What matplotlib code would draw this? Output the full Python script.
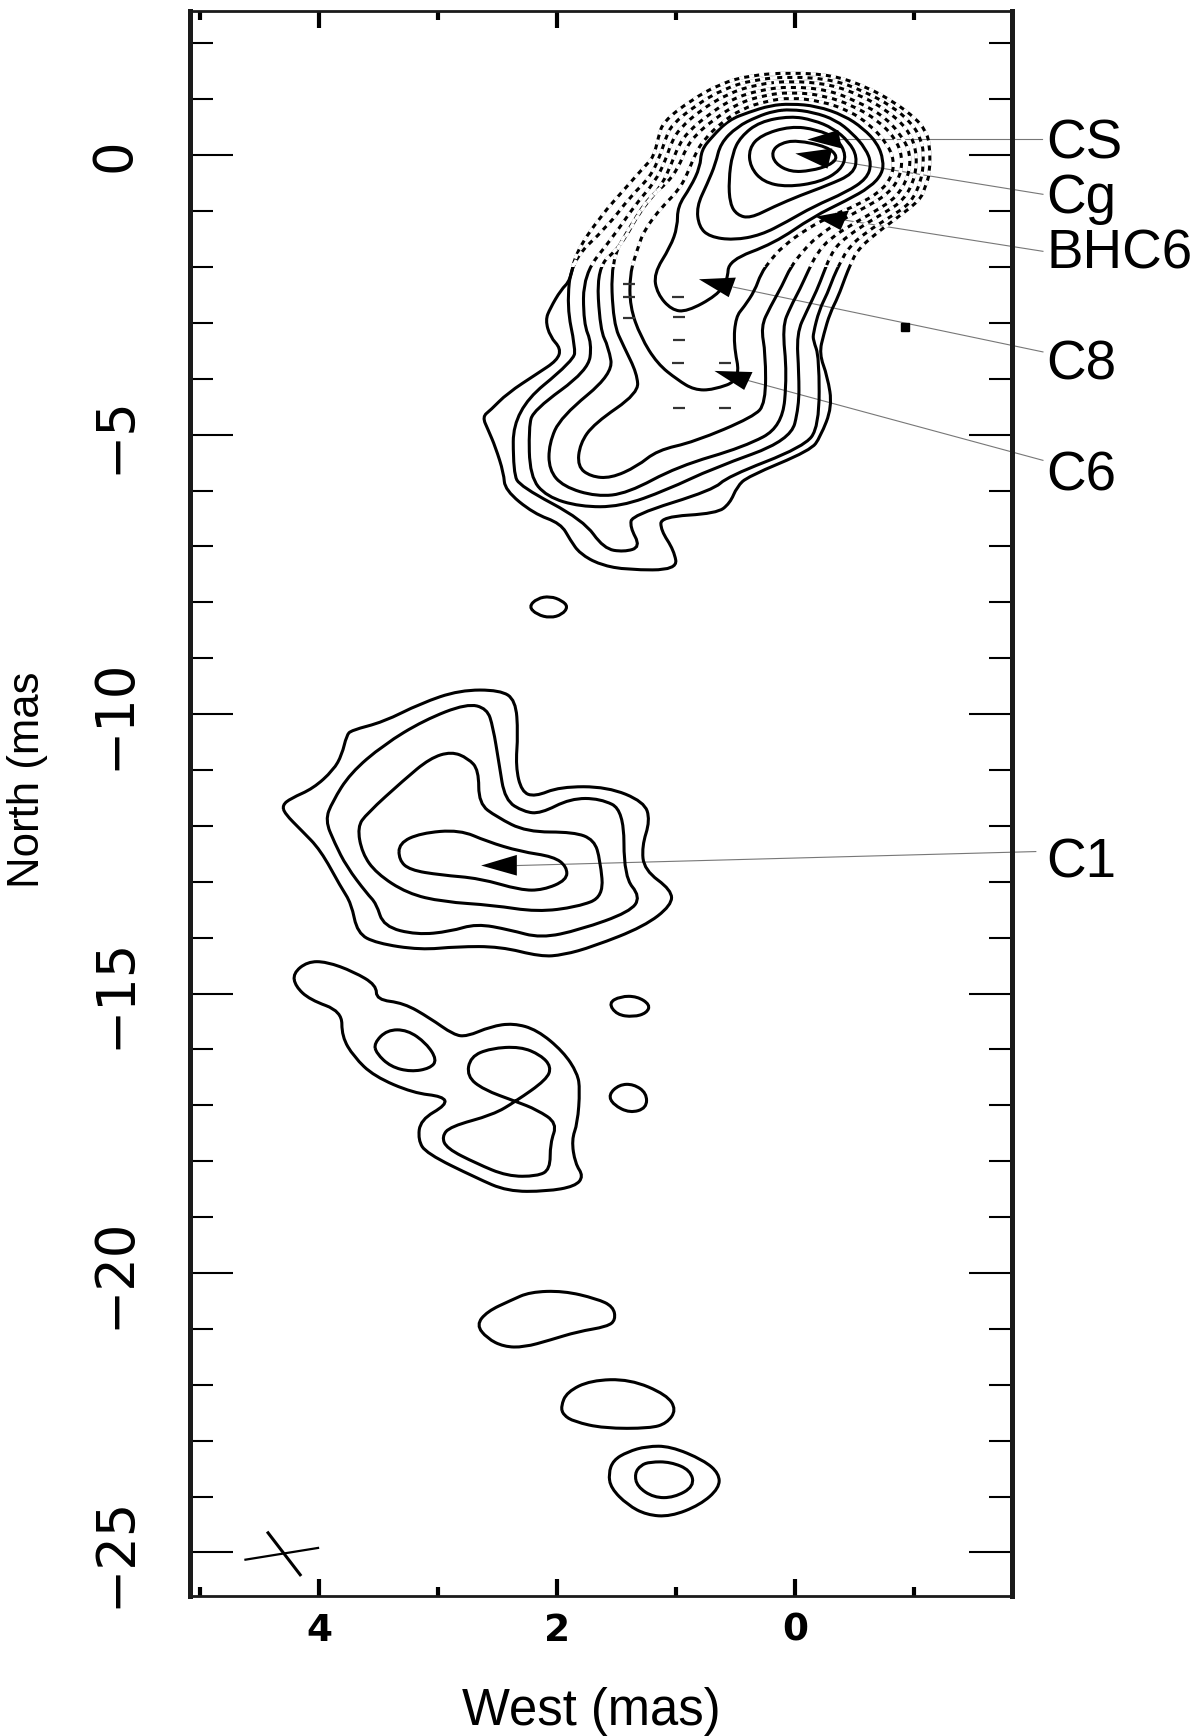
import matplotlib
matplotlib.use('Agg')
import matplotlib.pyplot as plt
from matplotlib.path import Path
from matplotlib.patches import PathPatch, Rectangle

# contours of the head and jet, outermost first
b1_west = [.04, -.32, -.60, -.83, -1.01, -1.09, -1.13, -1.13, -1.09, -1.05, -.83, -.66, -.52, -.46, -.42, -.36, -.29, -.24, -.20, -.27, -.31, -.21, -.13, .40, .49, .55, .66, 1.13, 1.13, 1.02, .99, 1.41, 1.64, 1.81, 1.89, 1.97, 2.20, 2.44, 2.45, 2.52, 2.58, 2.63, 2.56, 2.42, 2.17, 2.00, 1.97, 2.06, 2.10, 2.06, 1.97, 1.89, 1.85, 1.64, 1.42, 1.27, 1.19, 1.15, 1.11, .88, .63, .38]
b1_north = [1.48, 1.43, 1.22, .95, .66, .45, .21, -.33, -.57, -.80, -1.16, -1.43, -1.70, -1.97, -2.18, -2.53, -2.83, -3.19, -3.55, -3.96, -4.50, -5.04, -5.28, -5.75, -5.93, -6.23, -6.41, -6.47, -6.71, -7.07, -7.42, -7.42, -7.33, -7.13, -6.89, -6.59, -6.41, -5.99, -5.69, -5.22, -4.92, -4.68, -4.56, -4.26, -3.91, -3.67, -3.46, -3.25, -2.95, -2.74, -2.41, -2.24, -1.76, -1.10, -.57, -.21, -.03, .33, .60, .98, 1.28, 1.43]
b2_west = [.04, -.32, -.57, -.81, -.98, -1.06, -1.08, -1.06, -.97, -.80, -.60, -.45, -.38, -.32, -.27, -.20, -.15, -.15, -.20, -.20, -.07, .57, .69, 1.37, 1.39, 1.30, 1.44, 1.61, 1.78, 2.31, 2.37, 2.37, 1.86, 1.85, 1.92, 1.88, 1.58, 1.39, 1.22, 1.14, 1.09, 1.04, .84, .60, .35]
b2_north = [1.41, 1.35, 1.15, .88, .57, .27, -.03, -.45, -.86, -1.10, -1.37, -1.64, -1.91, -2.18, -2.47, -2.77, -3.19, -3.31, -3.61, -4.86, -5.22, -5.75, -5.99, -6.44, -6.65, -7.01, -7.10, -7.04, -6.53, -5.93, -5.69, -4.56, -3.67, -3.43, -2.71, -1.88, -1.28, -.75, -.39, -.03, .30, .54, .89, 1.19, 1.35]
b3_west = [.04, -.29, -.55, -.77, -.94, -1.02, -1.01, -.91, -.74, -.55, -.36, -.29, -.24, -.18, -.10, -.01, -.03, -.03, .04, .69, 1.08, 1.47, 1.81, 2.09, 2.23, 2.24, 2.20, 1.74, 1.71, 1.78, 1.78, 1.53, 1.34, 1.18, 1.09, 1.04, .97, .80, .57, .32]
b3_north = [1.33, 1.27, 1.07, .80, .48, .09, -.39, -.81, -1.04, -1.28, -1.58, -1.82, -2.09, -2.42, -2.77, -3.19, -3.91, -4.50, -5.10, -5.60, -5.99, -6.29, -6.29, -6.11, -5.75, -4.86, -4.56, -3.85, -3.37, -3.01, -2.12, -1.46, -.87, -.48, -.09, .24, .48, .80, 1.10, 1.27]
b4_west = [.04, -.27, -.50, -.73, -.88, -.97, -.95, -.85, -.69, -.49, -.29, -.18, -.11, -.04, .04, .11, .07, .11, .43, .99, 1.41, 1.67, 1.95, 2.07, 2.07, 1.97, 1.53, 1.57, 1.64, 1.67, 1.47, 1.30, 1.13, 1.04, .98, .90, .74, .53, .29]
b4_north = [1.23, 1.17, .98, .72, .39, .03, -.39, -.75, -.98, -1.22, -1.49, -1.76, -2.06, -2.39, -2.71, -3.07, -3.91, -4.86, -5.22, -5.57, -6.05, -6.11, -5.93, -5.63, -5.16, -4.68, -3.91, -3.43, -3.13, -2.00, -1.64, -.98, -.57, -.15, .18, .42, .71, 1.01, 1.17]
b5_west = [.04, -.24, -.48, -.69, -.84, -.90, -.88, -.78, -.60, -.41, -.18, -.07, .04, .11, .21, .29, .25, .25, .35, .85, 1.16, 1.33, 1.55, 1.72, 1.83, 1.81, 1.69, 1.32, 1.33, 1.44, 1.53, 1.55, 1.39, 1.23, 1.08, .98, .92, .84, .69, .49, .27]
b5_north = [1.13, 1.07, .89, .63, .30, -.03, -.39, -.69, -.92, -1.13, -1.46, -1.70, -2.00, -2.33, -2.71, -3.07, -3.55, -4.44, -4.68, -5.13, -5.28, -5.57, -5.78, -5.75, -5.57, -5.16, -4.80, -4.26, -3.91, -3.43, -3.01, -1.88, -1.28, -.75, -.51, -.21, .12, .36, .63, .92, 1.07]
b6_west = [.04, -.21, -.45, -.63, -.77, -.83, -.81, -.71, -.52, -.32, -.10, .11, .21, .29, .34, .43, .50, .52, .46, .69, .85, .99, 1.16, 1.30, 1.39, 1.39, 1.33, 1.27, 1.12, .98, .90, .84, .77, .63, .45, .24]
b6_north = [1.03, .97, .80, .54, .21, -.09, -.39, -.66, -.89, -1.07, -1.31, -1.64, -1.88, -2.12, -2.42, -2.71, -2.89, -3.37, -4.02, -4.20, -4.20, -4.02, -3.73, -3.25, -2.71, -2.12, -1.70, -1.34, -.92, -.63, -.30, .03, .27, .57, .83, .97]
b7_west = [.04, -.18, -.41, -.57, -.69, -.74, -.73, -.63, -.43, -.15, .18, .56, .57, .66, .91, 1.04, 1.16, 1.19, 1.05, .99, .99, .88, .80, .79, .70, .56, .39, .21]
b7_north = [.92, .88, .71, .48, .21, -.09, -.33, -.57, -.81, -1.10, -1.58, -1.88, -2.24, -2.51, -2.80, -2.77, -2.48, -2.12, -1.64, -1.28, -.92, -.57, -.21, .09, .33, .63, .77, .89]
t2_west = [.04, -.15, -.34, -.48, -.59, -.64, -.60, -.43, -.15, .07, .29, .52, .72, .81, .83, .74, .67, .63, .49, .32, .18]
t2_north = [.82, .77, .63, .39, .12, -.15, -.42, -.66, -.92, -1.19, -1.43, -1.52, -1.46, -1.28, -.92, -.51, -.15, .21, .51, .69, .79]
t1_west = [.04, -.15, -.32, -.45, -.52, -.49, -.27, -.04, .18, .38, .49, .55, .56, .53, .46, .30]
t1_north = [.70, .63, .48, .24, -.03, -.33, -.54, -.72, -.92, -1.13, -1.07, -.87, -.45, .03, .33, .60]
r2_west = [.04, -.18, -.35, -.43, -.38, -.21, .07, .27, .38, .39, .29]
r2_north = [.52, .46, .30, .00, -.27, -.48, -.57, -.48, -.21, .12, .36]
r1_west = [-.01, -.27, -.36, -.29, -.13, .04, .17, .20, .13]
r1_north = [.27, .15, -.03, -.18, -.28, -.30, -.15, .06, .21]

# isolated knot at -8
k_west = [2.24, 2.17, 2.06, 1.96, 1.91, 1.96, 2.06, 2.17]
k_north = [-8.08, -7.93, -7.89, -7.97, -8.08, -8.22, -8.28, -8.22]

# C1 lobe
c1_west = [4.31, 4.24, 4.05, 3.88, 3.81, 3.77, 3.73, 3.46, 3.15, 2.82, 2.48, 2.35, 2.33, 2.35, 2.30, 2.19, 1.98, 1.58, 1.27, 1.22, 1.29, 1.27, 1.04, 1.04, 1.27, 1.70, 1.95, 2.14, 2.48, 2.84, 3.15, 3.52, 3.68, 3.73, 3.82, 3.99, 4.15, 4.29]
c1_north = [-11.63, -11.51, -11.33, -11.00, -10.73, -10.38, -10.29, -10.14, -9.81, -9.57, -9.57, -9.75, -10.35, -10.94, -11.39, -11.48, -11.30, -11.30, -11.57, -11.90, -12.37, -12.79, -13.15, -13.42, -13.80, -14.16, -14.31, -14.34, -14.16, -14.16, -14.22, -14.10, -13.92, -13.39, -13.09, -12.43, -12.08, -11.78]
c2_west = [3.95, 3.89, 3.74, 3.46, 3.12, 2.76, 2.59, 2.54, 2.49, 2.44, 2.28, 2.14, 1.89, 1.64, 1.44, 1.44, 1.30, 1.39, 1.81, 2.14, 2.40, 2.68, 2.90, 3.18, 3.46, 3.52, 3.60, 3.77, 3.87]
c2_north = [-11.90, -11.57, -11.06, -10.55, -10.11, -9.81, -9.90, -10.23, -10.88, -11.54, -11.75, -11.78, -11.51, -11.51, -11.72, -12.91, -13.27, -13.54, -13.86, -14.01, -13.86, -13.75, -13.89, -13.95, -13.80, -13.39, -13.21, -12.73, -12.31]
c3_west = [3.68, 3.60, 3.29, 3.07, 2.89, 2.75, 2.66, 2.66, 2.51, 2.26, 1.86, 1.69, 1.64, 1.61, 1.83, 2.17, 2.54, 2.96, 3.26, 3.52, 3.64]
c3_north = [-12.02, -11.78, -11.18, -10.79, -10.67, -10.79, -11.00, -11.60, -11.84, -12.11, -12.11, -12.25, -12.61, -13.27, -13.45, -13.54, -13.42, -13.36, -13.21, -12.85, -12.49]
c4_west = [3.33, 3.15, 2.82, 2.59, 2.31, 2.03, 1.92, 1.92, 2.12, 2.31, 2.65, 2.98, 3.24, 3.33]
c4_north = [-12.31, -12.13, -12.07, -12.28, -12.46, -12.55, -12.73, -12.97, -13.15, -13.15, -12.94, -12.88, -12.79, -12.61]

# lower lobe
d1_west = [4.22, 4.10, 3.94, 3.71, 3.52, 3.52, 3.29, 3.07, 2.87, 2.76, 2.56, 2.37, 2.17, 1.95, 1.83, 1.81, 1.83, 1.88, 1.85, 1.78, 1.85, 2.09, 2.42, 2.68, 3.10, 3.17, 3.15, 2.93, 2.96, 3.21, 3.54, 3.71, 3.81, 3.81, 4.08, 4.20]
d1_north = [-14.64, -14.43, -14.43, -14.61, -14.85, -15.11, -15.17, -15.44, -15.74, -15.77, -15.59, -15.53, -15.65, -16.04, -16.43, -16.72, -17.32, -17.62, -18.04, -18.27, -18.45, -18.54, -18.54, -18.30, -17.86, -17.62, -17.26, -16.99, -16.84, -16.78, -16.48, -16.13, -15.77, -15.32, -15.11, -14.87]
d2_west = [3.54, 3.43, 3.26, 3.10, 3.01, 3.07, 3.23, 3.40, 3.52]
d2_north = [-15.89, -15.65, -15.65, -15.89, -16.19, -16.34, -16.40, -16.31, -16.07]
d3_west = [2.35, 2.09, 2.05, 2.14, 2.31, 2.56, 2.73, 2.76, 2.62, 2.35, 2.17, 2.00, 2.06, 2.06, 2.17, 2.42, 2.68, 2.93, 2.97, 2.90, 2.54]
d3_north = [-16.93, -16.54, -16.31, -16.10, -15.95, -15.98, -16.13, -16.48, -16.72, -16.93, -17.08, -17.32, -17.68, -18.15, -18.27, -18.27, -18.04, -17.77, -17.56, -17.38, -17.17]
e1_west = [1.57, 1.47, 1.33, 1.22, 1.25, 1.36, 1.50]
e1_north = [-15.17, -15.05, -15.05, -15.20, -15.35, -15.42, -15.38]
e2_west = [1.57, 1.48, 1.36, 1.25, 1.25, 1.39, 1.53]
e2_north = [-16.81, -16.63, -16.62, -16.78, -17.05, -17.14, -16.99]

# southern knots
f1_west = [2.68, 2.59, 2.39, 2.23, 1.95, 1.67, 1.53, 1.51, 1.58, 1.83, 2.06, 2.28, 2.45, 2.59]
f1_north = [-20.93, -20.69, -20.49, -20.34, -20.32, -20.46, -20.60, -20.84, -20.96, -21.05, -21.20, -21.33, -21.32, -21.17]
f2_west = [1.97, 1.92, 1.72, 1.39, 1.08, 1.00, 1.08, 1.22, 1.61, 1.86, 1.95]
f2_north = [-22.39, -22.13, -21.92, -21.90, -22.18, -22.45, -22.69, -22.78, -22.78, -22.66, -22.54]
f3_west = [1.57, 1.53, 1.41, 1.25, 1.05, .77, .64, .64, .80, 1.05, 1.25, 1.41, 1.55]
f3_north = [-23.59, -23.35, -23.20, -23.10, -23.10, -23.35, -23.59, -23.85, -24.15, -24.36, -24.33, -24.15, -23.85]
f4_west = [1.35, 1.30, 1.22, 1.05, .88, .85, 1.02, 1.19, 1.33]
f4_north = [-23.59, -23.44, -23.38, -23.38, -23.53, -23.82, -24.02, -24.02, -23.82]

dense = [(b1_west, b1_north), (b2_west, b2_north), (b3_west, b3_north), (b4_west, b4_north),
         (b5_west, b5_north), (b6_west, b6_north)]
contours = dense + [(b7_west, b7_north), (t2_west, t2_north),
            (t1_west, t1_north), (r2_west, r2_north), (r1_west, r1_north), (k_west, k_north),
            (c1_west, c1_north), (c2_west, c2_north), (c3_west, c3_north), (c4_west, c4_north),
            (d1_west, d1_north), (d2_west, d2_north), (d3_west, d3_north), (e1_west, e1_north),
            (e2_west, e2_north), (f1_west, f1_north), (f2_west, f2_north), (f3_west, f3_north),
            (f4_west, f4_north)]

# beam cross
beam_a_west = [4.43, 4.16]
beam_a_north = [-24.65, -25.40]
beam_b_west = [4.62, 4.01]
beam_b_north = [-25.13, -24.92]

# short dashes inside the jet
dash_west = [.99, .98, .98, .99, .59, .98, .59, 1.40, 1.40, 1.40]
dash_north = [-2.53, -2.90, -3.31, -3.71, -3.71, -4.52, -4.52, -2.30, -2.53, -2.92]

# components: arrow head (tip, base, base), leader line, label
labels = ['CS', 'Cg', 'BHC6', 'C8', 'C6', 'C1']
arrow_west = [[-.10, -.36, -.39], [.00, -.31, -.27], [-.17, -.45, -.38], [.81, .50, .56], [.68, .36, .43], [2.64, 2.34, 2.34]]
arrow_north = [[.28, .45, .12], [.03, .12, -.24], [-1.10, -.99, -1.34], [-2.22, -2.19, -2.54], [-3.86, -3.88, -4.20], [-12.71, -12.52, -12.89]]
leader_west = [[-.36, -2.07], [-.31, -2.08], [-.38, -2.08], [.52, -2.08], [.40, -2.08], [2.34, -2.02]]
leader_north = [[.29, .29], [-.09, -.70], [-1.15, -1.72], [-2.36, -3.52], [-4.03, -5.46], [-12.71, -12.46]]
label_west = [-2.11, -2.11, -2.11, -2.11, -2.11, -2.11]
label_north = [.19, -.79, -1.78, -3.76, -5.75, -12.67]
blob_west = [-.92]
blob_north = [-3.08]

x_major = [4, 2, 0]
x_minor = [5, 3, 1, -1]
y_major = [0, -5, -10, -15, -20, -25]
y_minor = [2, 1, -1, -2, -3, -4, -6, -7, -8, -9, -11, -12, -13, -14, -16, -17, -18, -19, -21, -22, -23, -24]


def smooth_loop(w, n):
    # closed quadratic curve through the midpoints, the read points act as controls
    pts = list(zip(w, n))
    mids = [((pts[i][0] + pts[(i + 1) % len(pts)][0]) / 2, (pts[i][1] + pts[(i + 1) % len(pts)][1]) / 2)
            for i in range(len(pts))]
    verts = [mids[-1]]
    codes = [Path.MOVETO]
    for i in range(len(pts)):
        verts += [pts[i], mids[i]]
        codes += [Path.CURVE3, Path.CURVE3]
    return Path(verts, codes)


fig = plt.figure(figsize=(12, 17.36), dpi=100)
ax = fig.add_axes([189.5/1200, 1 - 1596/1736, 822.5/1200, 1585/1736])

for w, n in contours:
    ax.add_patch(PathPatch(smooth_loop(w, n), fill=False, edgecolor='black', lw=2.2, zorder=2))

# the dense head is broken up into a checker pattern in the original scan
head_box = Rectangle((-1.82, -2.0), 6.91, 4.58, transform=ax.transData)
for w, n in dense:
    p = PathPatch(smooth_loop(w, n), fill=False, edgecolor='white', lw=2.6, ls=(0, (1.4, 1.4)), zorder=3)
    ax.add_patch(p)
    p.set_clip_path(head_box)

ax.plot(beam_a_west, beam_a_north, color='black', lw=2.2)
ax.plot(beam_b_west, beam_b_north, color='black', lw=1.6)
ax.plot(dash_west, dash_north, ls='none', marker='_', ms=9, mew=1.6, color='#333333')
ax.plot(blob_west, blob_north, ls='none', marker='s', ms=6, color='black')

for i in range(len(labels)):
    ax.plot(leader_west[i], leader_north[i], color='#777777', lw=0.8, clip_on=False, zorder=1)
    ax.fill(arrow_west[i], arrow_north[i], color='black', lw=0, zorder=5)
    ax.text(label_west[i], label_north[i], labels[i], family='Liberation Sans', fontsize=39.5,
            ha='left', va='center', clip_on=False)

ax.set_xlim(5.09, -1.82)
ax.set_ylim(-25.78, 2.58)

ax.set_xticks(x_major)
ax.set_xticks(x_minor, minor=True)
ax.set_yticks(y_major)
ax.set_yticks(y_minor, minor=True)
ax.set_xticklabels([str(v) for v in x_major], fontweight='bold')
ax.set_yticklabels(['\u2212' + str(-v) if v else '0' for v in y_major], rotation=90, va='center',
                   family=['Liberation Sans Narrow', 'DejaVu Sans'])

ax.tick_params(axis='x', which='major', direction='in', top=True, length=12, width=3, labelsize=27, pad=12)
ax.tick_params(axis='x', which='minor', direction='in', top=True, length=6.5, width=3)
ax.tick_params(axis='y', which='major', direction='in', right=True, length=31, width=1.5, labelsize=38, pad=35)
ax.tick_params(axis='y', which='minor', direction='in', right=True, length=16.5, width=1.5)

ax.spines['left'].set_linewidth(3.6)
ax.spines['right'].set_linewidth(3.6)
ax.spines['top'].set_linewidth(2)
ax.spines['bottom'].set_linewidth(2)
for s in ax.spines.values():
    s.set_color('#1a1a1a')

ax.set_xlabel('West (mas)', family='Liberation Sans', fontsize=36.5, va='top')
ax.xaxis.set_label_coords(0.489, -0.0575)
ax.set_ylabel('North (mas', family='Liberation Sans', fontsize=31.5, va='center')
ax.yaxis.set_label_coords(-0.197, 0.515)

plt.savefig('out.png', dpi=100)
